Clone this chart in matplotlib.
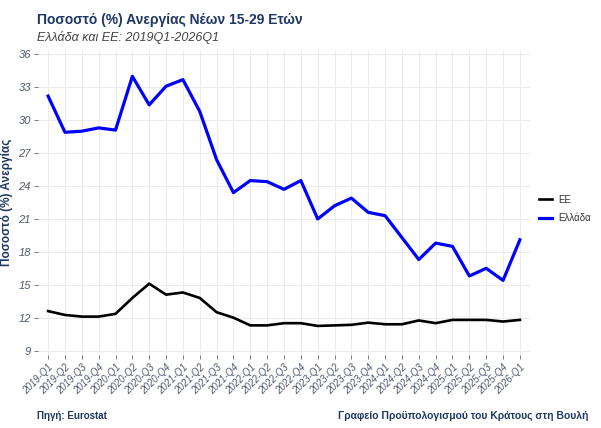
import matplotlib
matplotlib.use("Agg")
import matplotlib.pyplot as plt

quarters = [f"{y}-Q{q}" for y in range(2019, 2026) for q in range(1, 5)] + ["2026-Q1"]
greece = [32.2, 28.9, 29.0, 29.3, 29.1, 34.0, 31.4, 33.1, 33.7, 30.8, 26.4, 23.4,
          24.5, 24.4, 23.7, 24.5, 21.0, 22.2, 22.9, 21.6, 21.3, 19.3, 17.3, 18.8,
          18.5, 15.8, 16.5, 15.4, 19.1]
eu = [12.6, 12.25, 12.1, 12.1, 12.35, 13.8, 15.1, 14.1, 14.3, 13.8, 12.5, 12.0,
      11.3, 11.3, 11.5, 11.5, 11.25, 11.3, 11.35, 11.55, 11.4, 11.4, 11.75, 11.5,
      11.8, 11.8, 11.8, 11.65, 11.8]
yticks = [9, 12, 15, 18, 21, 24, 27, 30, 33, 36]

plt.rcParams['font.family'] = ['Liberation Sans', 'DejaVu Sans']
navy = "#1F3864"
tickcol = "#4D5A6B"

fig = plt.figure(figsize=(6.01, 4.28), dpi=100)
ax = fig.add_axes([38/601, 1-355/428, (530-38)/601, (355-50)/428])
x = list(range(len(quarters)))
ax.plot(x, eu, color="black", lw=1.9, label="ΕΕ", solid_joinstyle="round")
ax.plot(x, greece, color="#0000FF", lw=2.3, label="Ελλάδα", solid_joinstyle="round")

ax.set_xlim(-0.6, len(quarters) - 1 + 0.6)
ax.set_ylim(8.6, 36.4)
ax.set_yticks(yticks)
ax.set_xticks(x)
ax.set_xticklabels(quarters, rotation=45, ha="right", rotation_mode="anchor",
                   fontsize=7, style="italic", color=tickcol)
for lab in ax.get_yticklabels():
    lab.set_fontsize(8)
    lab.set_style("italic")
    lab.set_color(tickcol)
ax.grid(True, color="#EBEBEB", lw=0.8)
ax.set_axisbelow(True)
for s in ax.spines.values():
    s.set_visible(False)
ax.tick_params(axis="both", length=3, color="#666666", width=0.6, pad=2)
ax.set_ylabel("Ποσοστό (%) Ανεργίας", fontsize=8.5, fontweight="bold", color=navy, labelpad=4)

fig.text(37/601, 1-20/428, "Ποσοστό (%) Ανεργίας Νέων 15-29 Ετών", fontsize=10,
         fontweight="bold", color=navy, va="center", ha="left")
fig.text(37/601, 1-38/428, "Ελλάδα και ΕΕ: 2019Q1-2026Q1", fontsize=9,
         style="italic", color="#444444", va="center", ha="left")
fig.text(37/601, 1-416/428, "Πηγή: Eurostat", fontsize=7, fontweight="bold",
         color=navy, va="center", ha="left")
fig.text(588/601, 1-416/428, "Γραφείο Προϋπολογισμού του Κράτους στη Βουλή", fontsize=7.5,
         fontweight="bold", color=navy, va="center", ha="right")

leg = fig.legend(loc="center left", bbox_to_anchor=(530/601, 1-209/428), frameon=False,
                 fontsize=7, handlelength=1.4, labelspacing=0.9, handletextpad=0.6)
for t in leg.get_texts():
    t.set_color("#333333")

fig.savefig("out.png", dpi=100)
